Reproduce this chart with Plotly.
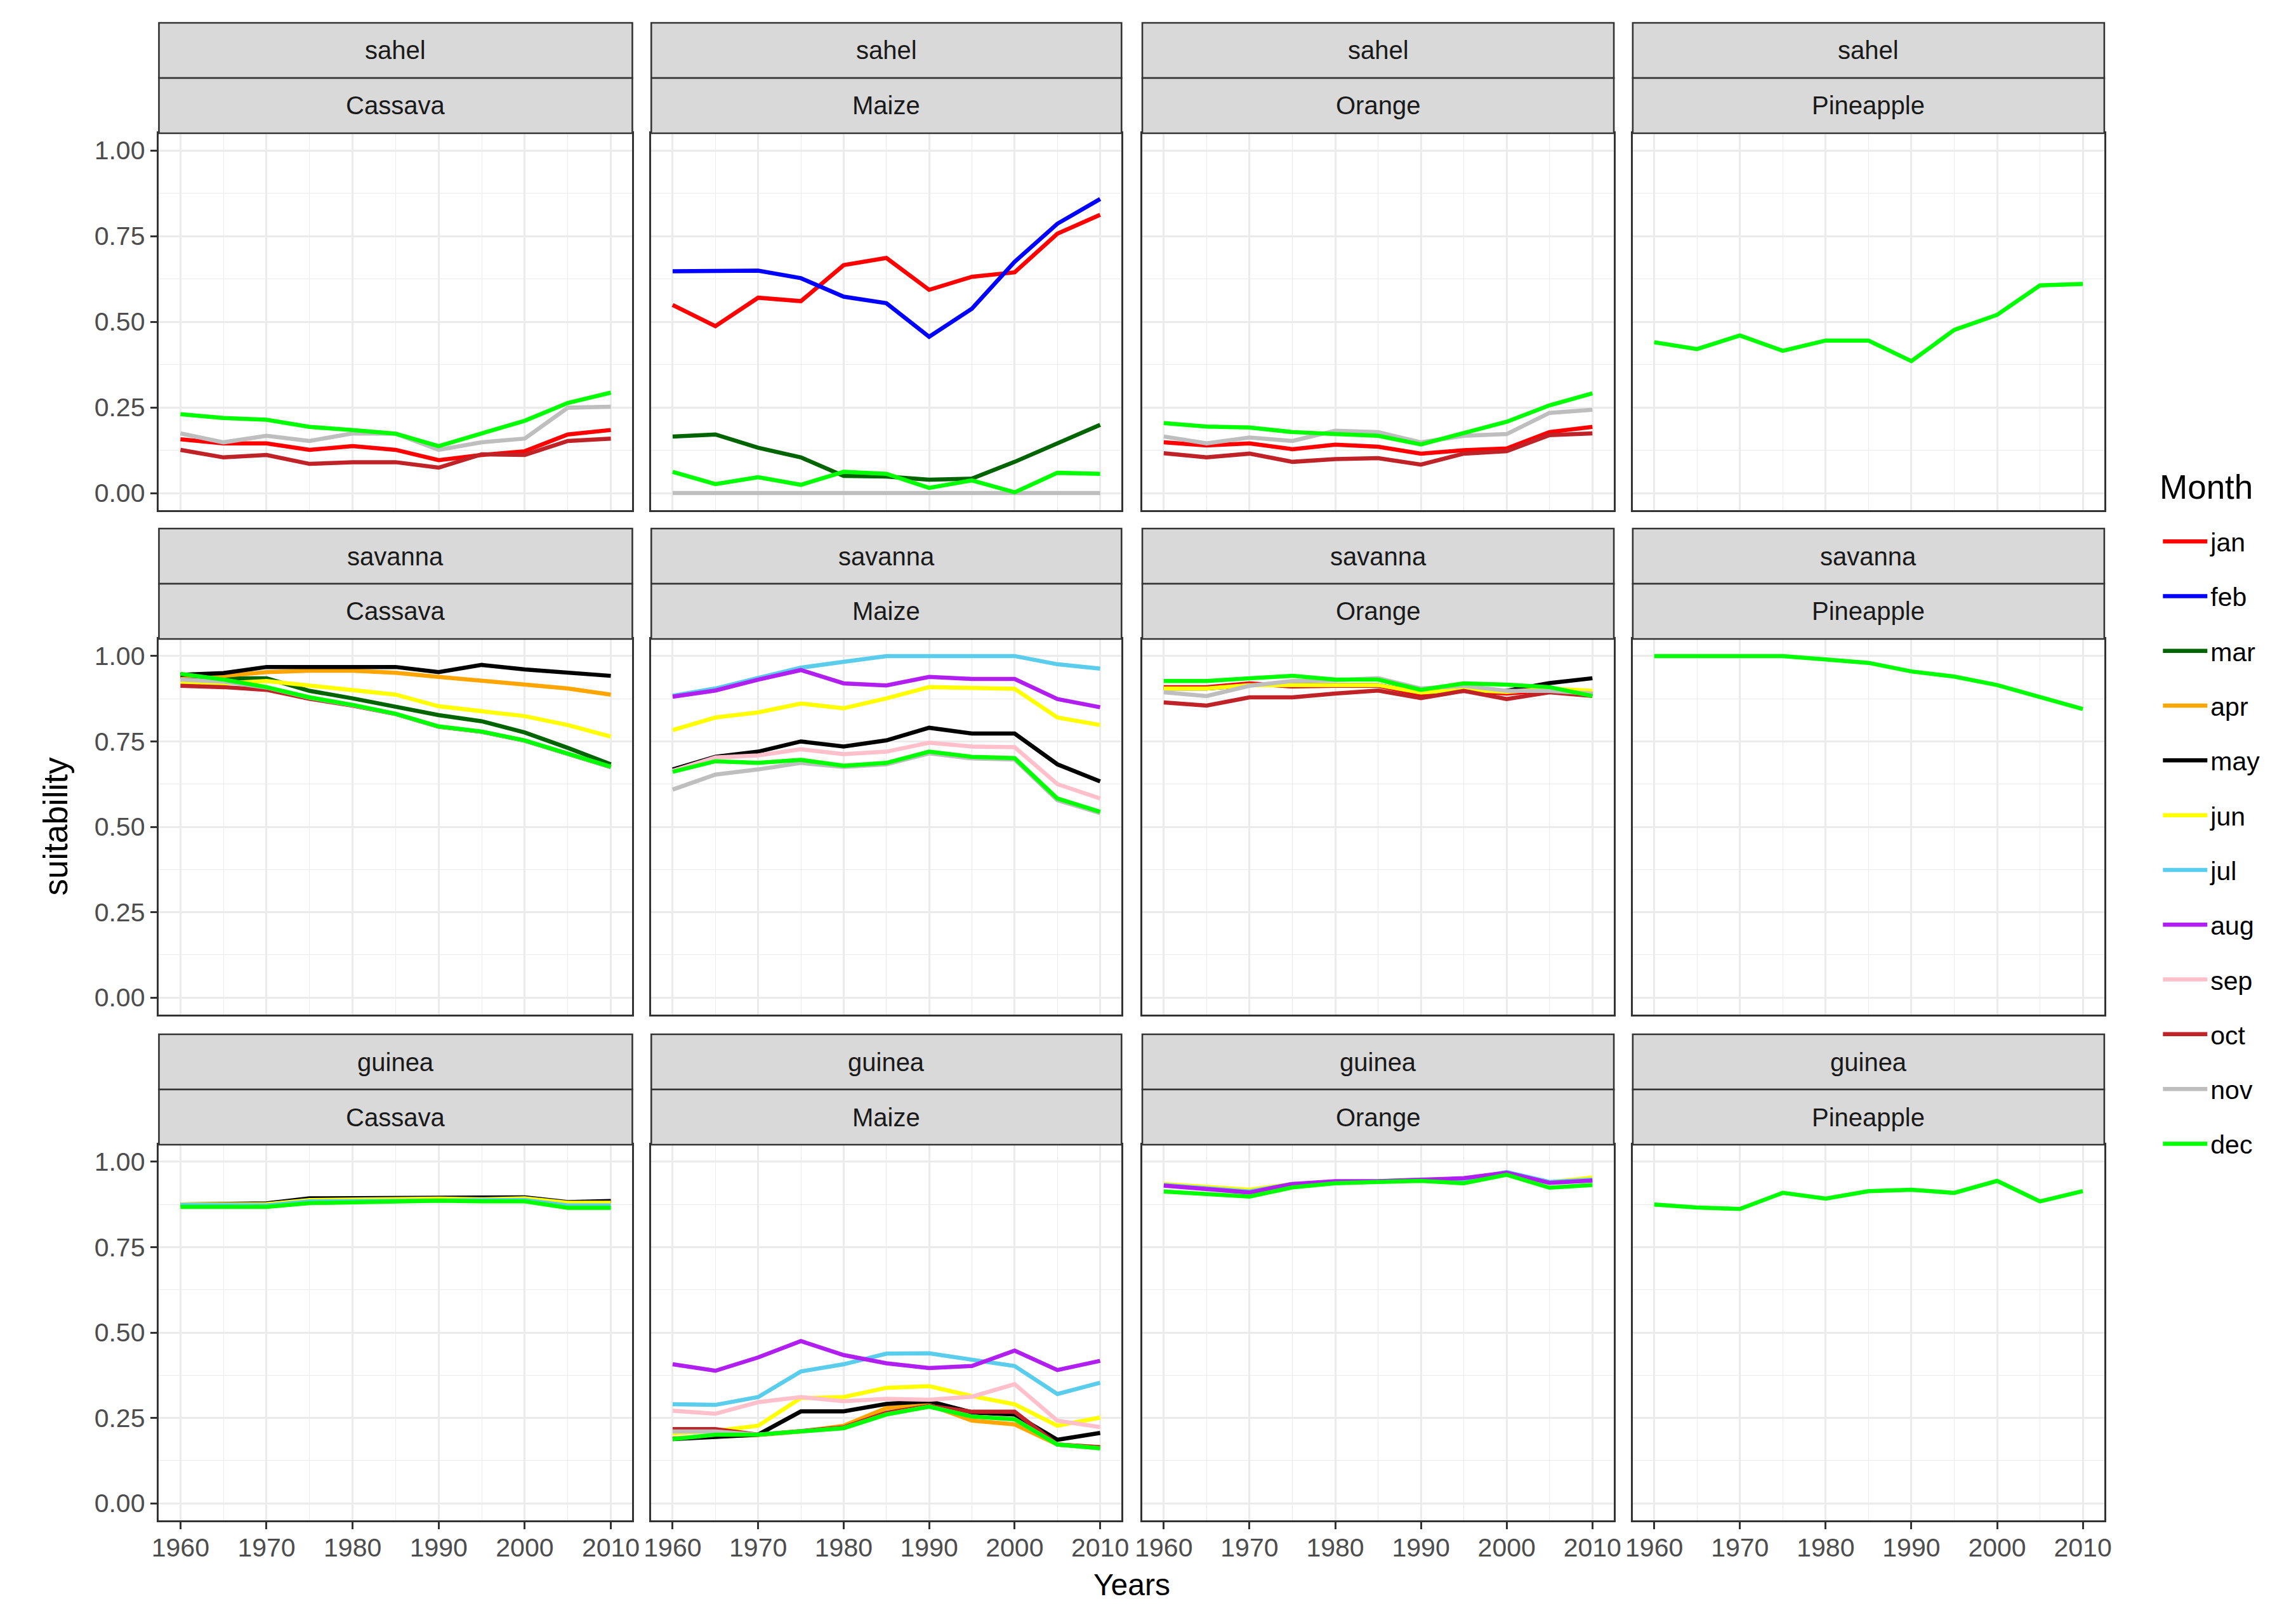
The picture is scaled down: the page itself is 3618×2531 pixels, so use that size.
import plotly.graph_objects as go

# ---------------- data ----------------
years = [1960, 1965, 1970, 1975, 1980, 1985, 1990, 1995, 2000, 2005, 2010]
months = ["jan", "feb", "mar", "apr", "may", "jun", "jul", "aug", "sep", "oct", "nov", "dec"]
month_colors = ["#FF0000", "#0000FF", "#006400", "#FFA500", "#000000", "#FFFF00",
                "#5BCDEC", "#B01FF0", "#FFC0CB", "#BF2327", "#BEBEBE", "#00FF00"]
regions = ["sahel", "savanna", "guinea"]
crops = ["Cassava", "Maize", "Orange", "Pineapple"]
x_ticks = [1960, 1970, 1980, 1990, 2000, 2010]
y_ticks = [0.00, 0.25, 0.50, 0.75, 1.00]

sahel_cassava = {
    "jan": [0.157, 0.145, 0.145, 0.126, 0.137, 0.126, 0.096, 0.111, 0.122, 0.171, 0.184],
    "oct": [0.126, 0.104, 0.111, 0.085, 0.090, 0.090, 0.074, 0.113, 0.111, 0.152, 0.159],
    "nov": [0.174, 0.148, 0.167, 0.152, 0.174, 0.173, 0.126, 0.148, 0.159, 0.249, 0.252],
    "dec": [0.230, 0.219, 0.214, 0.193, 0.184, 0.173, 0.137, 0.174, 0.211, 0.263, 0.293],
}
sahel_maize = {
    "jan": [0.549, 0.487, 0.570, 0.560, 0.665, 0.686, 0.593, 0.631, 0.644, 0.757, 0.812],
    "feb": [0.647, 0.649, 0.649, 0.627, 0.573, 0.554, 0.456, 0.538, 0.675, 0.786, 0.858],
    "mar": [0.165, 0.171, 0.132, 0.104, 0.050, 0.048, 0.039, 0.042, 0.091, 0.145, 0.199],
    "nov": [0.000, 0.000, 0.000, 0.000, 0.000, 0.000, 0.000, 0.000, 0.000, 0.000, 0.000],
    "dec": [0.062, 0.026, 0.046, 0.024, 0.062, 0.056, 0.015, 0.037, 0.002, 0.059, 0.056],
}
sahel_orange = {
    "jan": [0.148, 0.139, 0.145, 0.128, 0.141, 0.135, 0.115, 0.125, 0.130, 0.178, 0.193],
    "oct": [0.116, 0.104, 0.115, 0.091, 0.099, 0.102, 0.083, 0.115, 0.122, 0.169, 0.174],
    "nov": [0.165, 0.145, 0.162, 0.152, 0.182, 0.178, 0.148, 0.167, 0.172, 0.234, 0.243],
    "dec": [0.204, 0.194, 0.191, 0.178, 0.172, 0.167, 0.142, 0.174, 0.208, 0.256, 0.291],
}
sahel_pineapple = {
    "dec": [0.440, 0.420, 0.460, 0.415, 0.445, 0.445, 0.385, 0.476, 0.520, 0.606, 0.610],
}
savanna_cassava = {
    "mar": [0.940, 0.935, 0.935, 0.898, 0.876, 0.853, 0.827, 0.809, 0.776, 0.731, 0.683],
    "apr": [0.942, 0.942, 0.953, 0.957, 0.957, 0.951, 0.939, 0.927, 0.916, 0.905, 0.887],
    "may": [0.945, 0.950, 0.968, 0.968, 0.968, 0.968, 0.953, 0.974, 0.961, 0.953, 0.942],
    "jun": [0.921, 0.920, 0.927, 0.913, 0.901, 0.887, 0.853, 0.839, 0.824, 0.798, 0.764],
    "oct": [0.913, 0.909, 0.901, 0.875, 0.855, 0.830, 0.793, 0.778, 0.752, 0.712, 0.675],
    "nov": [0.931, 0.925, 0.908, 0.878, 0.856, 0.830, 0.793, 0.778, 0.752, 0.712, 0.675],
    "dec": [0.948, 0.931, 0.909, 0.879, 0.857, 0.831, 0.794, 0.779, 0.753, 0.713, 0.676],
}
savanna_maize = {
    "may": [0.668, 0.705, 0.720, 0.750, 0.735, 0.753, 0.790, 0.773, 0.773, 0.683, 0.633],
    "jun": [0.783, 0.820, 0.835, 0.861, 0.847, 0.876, 0.909, 0.907, 0.904, 0.820, 0.798],
    "jul": [0.884, 0.905, 0.936, 0.966, 0.983, 1.000, 1.000, 1.000, 1.000, 0.976, 0.963],
    "aug": [0.881, 0.899, 0.931, 0.959, 0.920, 0.914, 0.939, 0.933, 0.933, 0.874, 0.850],
    "sep": [0.664, 0.703, 0.709, 0.727, 0.713, 0.720, 0.746, 0.735, 0.733, 0.625, 0.583],
    "nov": [0.609, 0.653, 0.668, 0.687, 0.675, 0.683, 0.715, 0.700, 0.697, 0.578, 0.540],
    "dec": [0.661, 0.692, 0.687, 0.696, 0.679, 0.687, 0.720, 0.705, 0.701, 0.583, 0.544],
}
savanna_orange = {
    "jan": [0.909, 0.909, 0.920, 0.911, 0.913, 0.913, 0.887, 0.898, 0.890, 0.900, 0.890],
    "may": [0.905, 0.905, 0.915, 0.915, 0.915, 0.915, 0.893, 0.902, 0.898, 0.921, 0.935],
    "jun": [0.905, 0.905, 0.915, 0.915, 0.915, 0.915, 0.893, 0.902, 0.895, 0.905, 0.898],
    "oct": [0.864, 0.855, 0.879, 0.879, 0.890, 0.899, 0.877, 0.898, 0.874, 0.894, 0.883],
    "nov": [0.894, 0.883, 0.913, 0.927, 0.929, 0.935, 0.905, 0.913, 0.898, 0.898, 0.890],
    "dec": [0.927, 0.927, 0.935, 0.942, 0.931, 0.931, 0.901, 0.920, 0.916, 0.909, 0.883],
}
savanna_pineapple = {
    "dec": [1.000, 1.000, 1.000, 1.000, 0.990, 0.980, 0.955, 0.940, 0.915, 0.880, 0.845],
}
guinea_cassava = {
    "may": [0.875, 0.875, 0.878, 0.893, 0.893, 0.896, 0.896, 0.893, 0.896, 0.882, 0.885],
    "jun": [0.875, 0.874, 0.876, 0.888, 0.890, 0.892, 0.892, 0.890, 0.893, 0.880, 0.880],
    "jul": [0.874, 0.872, 0.872, 0.884, 0.885, 0.888, 0.889, 0.887, 0.888, 0.872, 0.872],
    "dec": [0.868, 0.868, 0.868, 0.879, 0.881, 0.884, 0.886, 0.884, 0.884, 0.865, 0.865],
}
guinea_maize = {
    "apr": [0.190, 0.195, 0.200, 0.210, 0.227, 0.279, 0.288, 0.242, 0.231, 0.172, 0.164],
    "may": [0.188, 0.194, 0.201, 0.269, 0.269, 0.291, 0.299, 0.266, 0.260, 0.186, 0.206],
    "jun": [0.205, 0.212, 0.227, 0.308, 0.311, 0.338, 0.343, 0.314, 0.290, 0.227, 0.251],
    "jul": [0.290, 0.288, 0.311, 0.386, 0.407, 0.438, 0.439, 0.419, 0.402, 0.320, 0.353],
    "aug": [0.407, 0.388, 0.427, 0.475, 0.434, 0.410, 0.396, 0.402, 0.447, 0.390, 0.417],
    "sep": [0.271, 0.262, 0.296, 0.311, 0.299, 0.306, 0.303, 0.312, 0.349, 0.242, 0.223],
    "oct": [0.217, 0.217, 0.201, 0.210, 0.222, 0.265, 0.285, 0.268, 0.268, 0.172, 0.164],
    "nov": [0.210, 0.210, 0.201, 0.210, 0.220, 0.260, 0.283, 0.254, 0.246, 0.172, 0.161],
    "dec": [0.188, 0.201, 0.201, 0.212, 0.220, 0.260, 0.283, 0.254, 0.246, 0.172, 0.161],
}
guinea_orange = {
    "jun": [0.935, 0.928, 0.918, 0.935, 0.940, 0.942, 0.946, 0.946, 0.968, 0.940, 0.954],
    "jul": [0.932, 0.922, 0.913, 0.935, 0.941, 0.942, 0.948, 0.946, 0.970, 0.941, 0.948],
    "aug": [0.930, 0.920, 0.910, 0.935, 0.943, 0.943, 0.946, 0.952, 0.968, 0.938, 0.945],
    "dec": [0.913, 0.905, 0.898, 0.925, 0.937, 0.941, 0.944, 0.937, 0.962, 0.924, 0.932],
}
guinea_pineapple = {
    "dec": [0.875, 0.866, 0.862, 0.909, 0.892, 0.914, 0.918, 0.909, 0.944, 0.884, 0.914],
}

panels = [
    [sahel_cassava, sahel_maize, sahel_orange, sahel_pineapple],
    [savanna_cassava, savanna_maize, savanna_orange, savanna_pineapple],
    [guinea_cassava, guinea_maize, guinea_orange, guinea_pineapple],
]

# ---------------- layout geometry (window pixels) ----------------
WIN_W, WIN_H = 3618, 2531
OFF = 8                      # default body margin of the html page
W, H = WIN_W - 2 * OFF, WIN_H - 2 * OFF


def fx(px):
    return (px - OFF) / W


def fy(py):
    return 1 - (py - OFF) / H


col_px = [(240, 991), (1021, 1767), (1800, 2548), (2578, 3326)]
row_px = [(210, 804), (1007, 1599), (1804, 2396)]
STRIP = 87

FONT = "Liberation Sans, Arial, sans-serif"
GRID = "#EBEBEB"
DARK = "#333333"
TICK_SIZE = 41
STRIP_SIZE = 40
TITLE_SIZE = 53

fig = go.Figure()

shown = set()
for mi, m in enumerate(months):
    for r in range(3):
        for c in range(4):
            data = panels[r][c]
            if m not in data:
                continue
            idx = r * 4 + c + 1
            sfx = "" if idx == 1 else str(idx)
            show = m not in shown
            shown.add(m)
            fig.add_trace(go.Scatter(
                x=years, y=data[m], mode="lines", name=m,
                legendgroup=m, showlegend=show,
                line=dict(color=month_colors[mi], width=6.5),
                xaxis="x" + sfx, yaxis="y" + sfx,
                hoverinfo="skip",
            ))

layout = dict(
    width=W, height=H,
    margin=dict(l=0, r=0, t=0, b=0),
    paper_bgcolor="white", plot_bgcolor="white",
    font=dict(family=FONT, size=TICK_SIZE, color="#1A1A1A"),
    showlegend=True,
    legend=dict(
        x=fx(3414), y=fy(820), xanchor="left", yanchor="top",
        font=dict(size=41, color="#000000", family=FONT),
        tracegroupgap=30, itemwidth=70,
        bgcolor="rgba(0,0,0,0)",
    ),
)
shapes = []
annotations = []
for r in range(3):
    y0, y1 = row_px[r]
    for c in range(4):
        x0, x1 = col_px[c]
        idx = r * 4 + c + 1
        sfx = "" if idx == 1 else str(idx)
        bottom = r == 2
        left = c == 0
        layout["xaxis" + sfx] = dict(
            domain=[fx(x0), fx(x1)], anchor="y" + sfx,
            range=[1957.5, 2012.5], tickvals=x_ticks,
            ticktext=[str(v) for v in x_ticks],
            showticklabels=bottom,
            ticks="outside" if bottom else "", ticklen=11, tickwidth=2.5, tickcolor=DARK,
            ticklabelstandoff=-6,
            tickfont=dict(size=TICK_SIZE, color="#4D4D4D", family=FONT),
            showgrid=True, gridcolor=GRID, gridwidth=2.6,
            minor=dict(dtick=5, tick0=1955, showgrid=True, gridcolor=GRID, gridwidth=1.3, ticks=""),
            showline=True, linecolor=DARK, linewidth=2.6, mirror=True,
            zeroline=False, fixedrange=True,
        )
        layout["yaxis" + sfx] = dict(
            domain=[fy(y1), fy(y0)], anchor="x" + sfx,
            range=[-0.05, 1.05], tickvals=y_ticks,
            ticktext=["%.2f" % v for v in y_ticks],
            showticklabels=left,
            ticks="outside" if left else "", ticklen=11, tickwidth=2.5, tickcolor=DARK,
            tickfont=dict(size=TICK_SIZE, color="#4D4D4D", family=FONT),
            showgrid=True, gridcolor=GRID, gridwidth=2.6,
            minor=dict(dtick=0.125, tick0=0.125, showgrid=True, gridcolor=GRID, gridwidth=1.3, ticks=""),
            showline=True, linecolor=DARK, linewidth=2.6, mirror=True,
            zeroline=False, fixedrange=True,
        )
        labels = [regions[r], crops[c]]
        for k in range(2):
            sy0 = y0 - STRIP * (2 - k)
            sy1 = sy0 + STRIP
            shapes.append(dict(
                type="rect", xref="paper", yref="paper",
                x0=fx(x0), x1=fx(x1), y0=fy(sy1), y1=fy(sy0),
                fillcolor="#D9D9D9", line=dict(color=DARK, width=2.6),
            ))
            annotations.append(dict(
                text=labels[k], xref="paper", yref="paper",
                x=fx((x0 + x1) / 2), y=fy((sy0 + sy1) / 2),
                xanchor="center", yanchor="middle", showarrow=False,
                font=dict(size=STRIP_SIZE, color="#1A1A1A", family=FONT),
            ))

annotations.append(dict(
    text="suitability", xref="paper", yref="paper",
    x=fx(75), y=fy(1303), textangle=-90,
    xanchor="center", yanchor="middle", showarrow=False,
    font=dict(size=TITLE_SIZE, color="#000000", family=FONT),
))
annotations.append(dict(
    text="Years", xref="paper", yref="paper",
    x=fx(1783), y=fy(2497),
    xanchor="center", yanchor="middle", showarrow=False,
    font=dict(size=48, color="#000000", family=FONT),
))
# legend title
annotations.append(dict(
    text="Month", xref="paper", yref="paper",
    x=fx(3412), y=fy(768),
    xanchor="left", yanchor="middle", showarrow=False,
    font=dict(size=TITLE_SIZE, color="#000000", family=FONT),
))
layout["shapes"] = shapes
layout["annotations"] = annotations
fig.update_layout(**layout)

fig.write_html("out.html")
